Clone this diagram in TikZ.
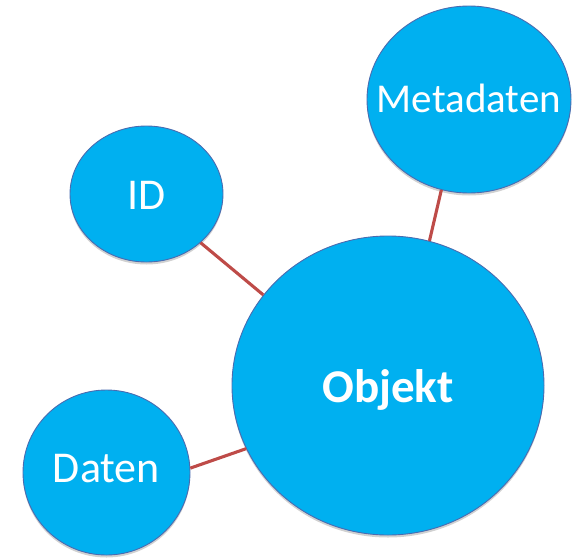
\documentclass[tikz,border=0pt]{standalone}
\usepackage{fontspec}
\setmainfont{Carlito}
\usetikzlibrary{shapes.geometric,shadows}
\definecolor{bubblefill}{HTML}{00B0F0}
\definecolor{bubbleline}{HTML}{4A6BB0}
\definecolor{linkred}{HTML}{BE4B48}
\begin{document}
\begin{tikzpicture}[x=1pt,y=-1pt,
  bubble/.style={ellipse,draw=bubbleline,line width=0.9pt,fill=bubblefill,inner sep=0pt,
    drop shadow={shadow xshift=0pt,shadow yshift=-2.5pt,opacity=0.18,fill=black}},
  lbl/.style={text=white,inner sep=0pt,text depth=0pt},
  link/.style={draw=linkred,line width=3.1pt}]
\useasboundingbox (0,0) rectangle (578,557);
\node[bubble,minimum width=204pt,minimum height=187pt] (meta) at (469,99.5) {};
\node[bubble,minimum width=153pt,minimum height=136pt] (id) at (146.5,194) {};
\node[bubble,minimum width=167pt,minimum height=165pt] (daten) at (106.5,472.5) {};
\node[bubble,minimum width=312pt,minimum height=299pt] (obj) at (388,385.5) {};
\draw[link] (id.-42) -- (obj.144);
\draw[link] (meta.-107.8) -- (obj.74.4);
\draw[link] (daten.3) -- (obj.204);
\node[lbl,font=\fontsize{41}{41}\selectfont] (metat) at (469,98) {Metadaten};
\node[lbl,font=\fontsize{44}{44}\selectfont] (idt) at (146.5,195) {ID};
\node[lbl,font=\fontsize{44}{44}\selectfont] (datent) at (106.5,468) {Daten};
\node[lbl,font=\fontsize{47}{47}\selectfont\bfseries] (objt) at (388,386.5) {Objekt};
\end{tikzpicture}
\end{document}
